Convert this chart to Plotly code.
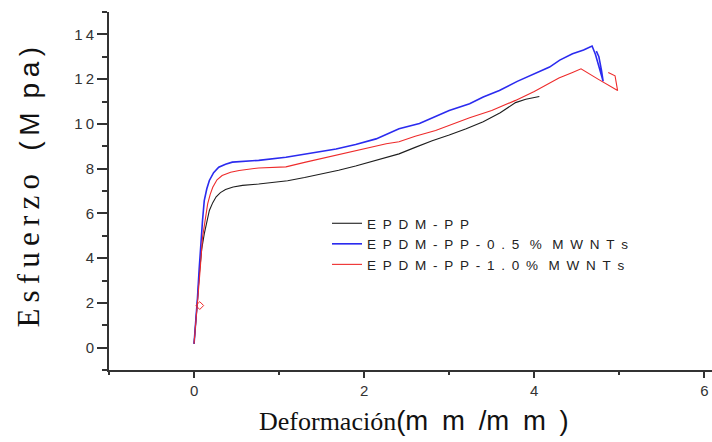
import plotly.graph_objects as go

# ---- data ----
names = ["EPDM-PP", "EPDM-PP-0.5 % MWNTs", "EPDM-PP-1.0% MWNTs"]

x_pp = [0.00, 0.02, 0.04, 0.06, 0.09, 0.12, 0.15, 0.18, 0.22, 0.26, 0.31, 0.37, 0.46,
        0.57, 0.76, 0.90, 1.10, 1.30, 1.50, 1.70, 1.90, 2.06, 2.25, 2.41, 2.60, 2.80,
        3.00, 3.20, 3.40, 3.60, 3.78, 3.90, 4.06]
y_pp = [0.17, 1.00, 2.10, 3.20, 4.40, 5.08, 5.65, 6.13, 6.48, 6.74, 6.93, 7.07, 7.18,
        7.25, 7.31, 7.36, 7.46, 7.60, 7.76, 7.93, 8.12, 8.30, 8.50, 8.66, 8.95, 9.25,
        9.50, 9.78, 10.10, 10.50, 10.95, 11.10, 11.22]

x_05 = [0.00, 0.02, 0.04, 0.06, 0.08, 0.10, 0.12, 0.15, 0.18, 0.23, 0.29, 0.37, 0.45,
        0.61, 0.76, 1.08, 1.30, 1.50, 1.67, 1.90, 2.14, 2.41, 2.65, 3.00, 3.24, 3.40,
        3.59, 3.80, 4.00, 4.18, 4.30, 4.45, 4.58, 4.68, 4.72, 4.77, 4.81, 4.79, 4.76, 4.73]
y_05 = [0.17, 1.10, 2.20, 3.50, 4.80, 5.70, 6.57, 7.10, 7.47, 7.82, 8.06, 8.20, 8.29,
        8.34, 8.37, 8.51, 8.64, 8.76, 8.88, 9.08, 9.33, 9.78, 10.02, 10.60, 10.90, 11.20,
        11.49, 11.90, 12.25, 12.54, 12.85, 13.13, 13.30, 13.48, 13.10, 12.40, 11.90, 12.40,
        13.00, 13.25]

x_10 = [0.00, 0.02, 0.04, 0.07, 0.10, 0.13, 0.16, 0.19, 0.22, 0.27, 0.33, 0.43, 0.53,
        0.76, 1.08, 1.30, 1.50, 1.67, 1.90, 2.10, 2.26, 2.41, 2.60, 2.84, 3.00, 3.24,
        3.50, 3.78, 4.00, 4.15, 4.29, 4.45, 4.55, 4.75, 4.98, 4.95, 4.87]
y_10 = [0.17, 1.00, 2.00, 3.40, 4.93, 5.80, 6.42, 6.85, 7.17, 7.50, 7.69, 7.84, 7.92,
        8.03, 8.08, 8.28, 8.45, 8.59, 8.80, 8.98, 9.11, 9.20, 9.45, 9.70, 9.93, 10.27,
        10.60, 11.05, 11.45, 11.75, 12.05, 12.30, 12.46, 12.00, 11.49, 12.15, 12.30]

# small diamond mark on the 1.0 % curve near the origin
mark_x = [0.067]
mark_y = [1.88]

x_tickvals = [0, 2, 4, 6]
x_ticktext = ["0", "2", "4", "6"]
y_tickvals = [0, 2, 4, 6, 8, 10, 12, 14]
y_ticktext = ["0", "2", "4", "6", "8", "1\u20090", "1\u20092", "1\u20094"]

colors = ["#1e1e1e", "#2b2bef", "#ee2b2b"]
widths = [1.1, 1.6, 1.1]


def spaced(s):
    # wide letter spacing as in the original legend
    return "\u2002 ".join("\u2002".join(list(w)) for w in s.split(" "))


fig = go.Figure()
for xs, ys, nm, c, w in zip([x_pp, x_05, x_10], [y_pp, y_05, y_10], names, colors, widths):
    fig.add_trace(go.Scatter(x=xs, y=ys, mode="lines", name=spaced(nm),
                             line=dict(color=c, width=w)))
fig.add_trace(go.Scatter(x=mark_x, y=mark_y, mode="markers", showlegend=False,
                         marker=dict(symbol="diamond-open", size=6, color=colors[2],
                                     line=dict(width=1, color=colors[2]))))

axis_col = "#333333"
fig.update_xaxes(range=[-1, 6.09], showline=True, linecolor=axis_col, linewidth=2,
                 showgrid=False, zeroline=False, ticks="outside", ticklen=6, tickwidth=2,
                 tickcolor=axis_col, tickvals=x_tickvals, ticktext=x_ticktext,
                 ticklabeloverflow="allow",
                 tickfont=dict(family="Liberation Sans, Arial, sans-serif", size=15, color="#333"),
                 minor=dict(dtick=1, tick0=1, ticks="outside", ticklen=3, tickwidth=2,
                            tickcolor=axis_col))
fig.update_yaxes(range=[-1, 15], showline=True, linecolor=axis_col, linewidth=2,
                 showgrid=False, zeroline=False, ticks="outside", ticklen=10, tickwidth=2,
                 tickcolor=axis_col, tickvals=y_tickvals, ticktext=y_ticktext,
                 tickfont=dict(family="Liberation Sans, Arial, sans-serif", size=15, color="#333"),
                 minor=dict(dtick=1, tick0=1, ticks="outside", ticklen=5, tickwidth=2,
                            tickcolor=axis_col))

xtitle = ('Deformación<span style="font-family:Liberation Sans, Arial, sans-serif;font-size:27.5px">'
          '(m\u2002m\u2002/m\u2002m\u2002)</span>')
ytitle = ('E\u2009s\u2009f\u2009u\u2009e\u2009r\u2009z\u2009o\u2002 '
          '<span style="font-family:Liberation Sans, Arial, sans-serif;font-size:28px">'
          '(\u2009M\u2002p\u2009a\u2009)</span>')

fig.add_annotation(text=xtitle, xref="paper", yref="paper", x=0.505, y=-0.14,
                   xanchor="center", yanchor="middle", showarrow=False,
                   font=dict(family="Liberation Serif, Times New Roman, serif", size=26, color="#111"))
fig.add_annotation(text=ytitle, xref="paper", yref="paper", x=-0.134, y=0.51,
                   xanchor="center", yanchor="middle", showarrow=False, textangle=-90,
                   font=dict(family="Liberation Serif, Times New Roman, serif", size=31, color="#111"))

fig.update_layout(
    width=712, height=442,
    margin=dict(l=109, r=0, t=12, b=72),
    paper_bgcolor="white", plot_bgcolor="white",
    showlegend=True,
    legend=dict(x=(327 - 109) / 603, xanchor="left", y=(370 - 208) / 358, yanchor="top",
                bgcolor="rgba(0,0,0,0)", borderwidth=0,
                font=dict(family="Liberation Sans, Arial, sans-serif", size=13.5, color="#222")),
)

fig.write_html("out.html", config={"displayModeBar": False},
               post_script="document.body.style.margin='0';document.body.style.overflow='hidden';")
